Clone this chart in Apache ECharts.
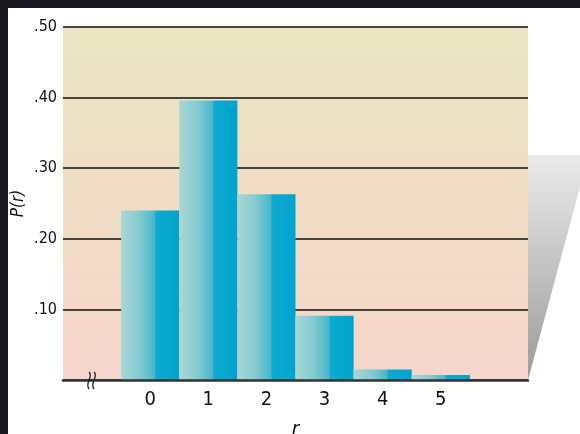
<!DOCTYPE html>
<html>
<head>
<meta charset="utf-8">
<script src="https://cdn.jsdelivr.net/npm/echarts@6/dist/echarts.min.js"></script>
<style>
  html, body { margin: 0; padding: 0; background: #18181f; }
  #chart { width: 580px; height: 434px; }
</style>
</head>
<body>
<div id="chart"></div>
<script>
// Binomial distribution P(r) for r = 0..5
const rValues = ['0', '1', '2', '3', '4', '5'];
const probabilities = [0.24, 0.396, 0.263, 0.091, 0.015, 0.007];
const yTicks = [0, 0.1, 0.2, 0.3, 0.4, 0.5];

// Empty slots on either side of the bars (the left one carries the axis break)
const categories = ['\u2009'].concat(rValues, ['\u200a']);
const barData = [null].concat(probabilities, [null]);

const FONT = "'DejaVu Sans Condensed', 'Liberation Sans Narrow', sans-serif";

const chart = echarts.init(document.getElementById('chart'), null, { renderer: 'canvas' });

const barFill = new echarts.graphic.LinearGradient(0, 0, 1, 0, [
  { offset: 0, color: '#a8d7d2' },
  { offset: 0.3, color: '#86ccd0' },
  { offset: 0.57, color: '#4ab8cc' },
  { offset: 0.6, color: '#0eaad0' },
  { offset: 1, color: '#00a4cc' }
]);

const plotFill = new echarts.graphic.LinearGradient(0, 0, 0, 1, [
  { offset: 0, color: '#eae6c2' },
  { offset: 0.5, color: '#f0ddc4' },
  { offset: 1, color: '#f6d5cc' }
]);

chart.setOption({
  animation: false,
  backgroundColor: '#18181f',
  grid: {
    left: 63, right: 52, top: 27, bottom: 54,
    containLabel: false,
    outerBoundsMode: 'none',
    show: true,
    backgroundColor: plotFill,
    borderWidth: 0
  },
  xAxis: {
    type: 'category',
    data: categories,
    name: 'r',
    nameLocation: 'middle',
    nameGap: 40,
    nameTextStyle: { fontFamily: FONT, fontStyle: 'italic', fontSize: 20, color: '#111', verticalAlign: 'top' },
    axisLine: { show: true, lineStyle: { color: '#333', width: 2.5 } },
    axisTick: { show: false },
    axisLabel: { fontFamily: FONT, fontSize: 20, color: '#111', margin: 10 },
    splitLine: { show: false },
    z: 5
  },
  yAxis: {
    type: 'value',
    min: yTicks[0],
    max: yTicks[yTicks.length - 1],
    interval: 0.1,
    name: 'P(r)',
    nameLocation: 'middle',
    nameGap: 36,
    nameRotate: 90,
    nameMoveOverlap: false,
    nameTextStyle: { fontFamily: FONT, fontStyle: 'italic', fontSize: 17, color: '#111' },
    axisLine: { show: false },
    axisTick: { show: false },
    axisLabel: {
      fontFamily: FONT, fontSize: 16, color: '#111', margin: 6,
      formatter: v => (v === 0 ? '' : '.' + Math.round(v * 100).toString().padStart(2, '0'))
    },
    splitLine: { show: true, lineStyle: { color: '#111', width: 1.5 } }
  },
  series: [{
    type: 'bar',
    data: barData,
    barCategoryGap: 0,
    barGap: 0,
    itemStyle: { color: barFill },
    z: 3
  }],
  graphic: [
    // white page panel
    { type: 'rect', z: -10, silent: true,
      shape: { x: 8, y: 8, width: 572, height: 426 },
      style: { fill: '#ffffff' } },
    // grey shadow wedge at the right
    { type: 'polygon', z: -5, silent: true,
      shape: { points: [[528, 155], [580, 155], [580, 187], [528, 380]] },
      style: {
        fill: new echarts.graphic.LinearGradient(0, 0, 0, 1, [
          { offset: 0, color: '#ebebeb' },
          { offset: 1, color: '#9a9a9a' }
        ])
      } }
  ]
});

// Axis-break squiggle in the empty first slot
const base = chart.convertToPixel({ xAxisIndex: 0, yAxisIndex: 0 }, [0, 0]);
const squiggle = dx => ({
  type: 'bezierCurve', z: 20, silent: true,
  shape: {
    x1: base[0] + dx, y1: base[1] - 8,
    cpx1: base[0] + dx + 5, cpy1: base[1] - 3,
    cpx2: base[0] + dx - 5, cpy2: base[1] + 3,
    x2: base[0] + dx, y2: base[1] + 9
  },
  style: { stroke: '#222', lineWidth: 1.3, fill: null }
});
chart.setOption({
  graphic: [
    { id: 'brk1', ...squiggle(-3) },
    { id: 'brk2', ...squiggle(2) }
  ]
});
</script>
</body>
</html>
